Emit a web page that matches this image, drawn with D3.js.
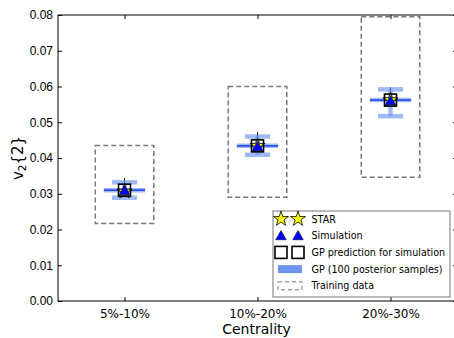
<!DOCTYPE html>
<html>
<head>
<meta charset="utf-8">
<script src="https://cdnjs.cloudflare.com/ajax/libs/d3/7.8.5/d3.min.js"></script>
<style>
  body { margin: 0; background: #fff; }
  svg { display: block; }
</style>
</head>
<body>
<div id="chart"></div>
<script>
// categories on the x axis
const categories = ['5%-10%', '10%-20%', '20%-30%'];
// training-data range (dashed boxes)
const trainLow = [0.0217, 0.0290, 0.0346];
const trainHigh = [0.0435, 0.0600, 0.0795];
// GP posterior summary
const gpMean = [0.0310, 0.0434, 0.0562];
const gpLow = [0.0289, 0.0409, 0.0517];
const gpHigh = [0.0332, 0.0460, 0.0592];
// simulation and STAR values
const simValues = [0.0309, 0.0432, 0.0560];
const starValues = [0.0306, 0.0434, 0.0562];
const starHigh = [0.0344, 0.0472, 0.0598];
const starLow = [0.0296, 0.0424, 0.0552];
const yTicks = [0, 0.01, 0.02, 0.03, 0.04, 0.05, 0.06, 0.07, 0.08];

const W = 454, H = 338;
const margin = { top: 15, right: -3, bottom: 37, left: 58 };
const pLeft = margin.left, pRight = W - margin.right;
const pTop = margin.top, pBottom = H - margin.bottom;

const svg = d3.select('#chart').append('svg')
  .attr('width', W).attr('height', H);

const x = d3.scaleLinear().domain([0.5, 3.5]).range([pLeft, pRight]);
const y = d3.scaleLinear().domain([0, 0.08]).range([pBottom, pTop]);

const boxHalf = 0.22, bandHalf = 0.155, capHalf = 0.094;
const idx = categories.map((c, i) => i);

// training boxes
svg.append('g').selectAll('rect')
  .data(idx).enter().append('rect')
  .attr('x', i => x(i + 1 - boxHalf))
  .attr('width', i => x(i + 1 + boxHalf) - x(i + 1 - boxHalf))
  .attr('y', i => y(trainHigh[i]))
  .attr('height', i => y(trainLow[i]) - y(trainHigh[i]))
  .attr('fill', 'none')
  .attr('stroke', '#777')
  .attr('stroke-width', 1.5)
  .attr('stroke-dasharray', '5,3');

// STAR error bars
svg.append('g').selectAll('line')
  .data(idx).enter().append('line')
  .attr('x1', i => x(i + 1)).attr('x2', i => x(i + 1))
  .attr('y1', i => y(starHigh[i]))
  .attr('y2', i => y(starLow[i]))
  .attr('stroke', '#000').attr('stroke-width', 1);

// GP bands
const gp = svg.append('g');
const bandColor = '#6d95ef';
idx.forEach(i => {
  const g = gp.append('g').attr('stroke', bandColor).attr('stroke-opacity', 0.65).attr('stroke-width', 4.5);
  g.append('line')
    .attr('x1', x(i + 1 - bandHalf)).attr('x2', x(i + 1 + bandHalf))
    .attr('y1', y(gpMean[i])).attr('y2', y(gpMean[i]));
  g.append('line')
    .attr('x1', x(i + 1)).attr('x2', x(i + 1))
    .attr('y1', y(gpHigh[i])).attr('y2', y(gpLow[i]));
  [gpHigh[i], gpLow[i]].forEach(v => {
    g.append('line')
      .attr('x1', x(i + 1 - capHalf)).attr('x2', x(i + 1 + capHalf))
      .attr('y1', y(v)).attr('y2', y(v));
  });
  gp.append('line')
    .attr('x1', x(i + 1 - bandHalf)).attr('x2', x(i + 1 + bandHalf))
    .attr('y1', y(gpMean[i])).attr('y2', y(gpMean[i]))
    .attr('stroke', '#3050ee').attr('stroke-width', 1.8);
});

const star = d3.symbol().type(d3.symbolStar).size(70);
const tri = d3.symbol().type(d3.symbolTriangle).size(48);

// STAR markers
svg.append('g').selectAll('path')
  .data(idx).enter().append('path')
  .attr('d', star)
  .attr('transform', i => `translate(${x(i + 1)},${y(starValues[i])})`)
  .attr('fill', '#ffff00').attr('stroke', '#000').attr('stroke-width', 0.8);

// simulation markers
svg.append('g').selectAll('path')
  .data(idx).enter().append('path')
  .attr('d', tri)
  .attr('transform', i => `translate(${x(i + 1)},${y(simValues[i]) + 1})`)
  .attr('fill', '#0000ff').attr('stroke', '#000033').attr('stroke-width', 0.6);

// GP prediction squares
svg.append('g').selectAll('rect')
  .data(idx).enter().append('rect')
  .attr('x', i => x(i + 1) - 6).attr('y', i => y(gpMean[i]) - 6)
  .attr('width', 12).attr('height', 12)
  .attr('fill', 'none').attr('stroke', '#000').attr('stroke-width', 1.6);

// frame
svg.append('rect')
  .attr('x', pLeft).attr('y', pTop)
  .attr('width', pRight - pLeft).attr('height', pBottom - pTop)
  .attr('fill', 'none').attr('stroke', '#000').attr('stroke-width', 1);

// axes with inward ticks
const yAxis = svg.append('g').attr('transform', `translate(${pLeft},0)`)
  .call(d3.axisLeft(y).tickValues(yTicks).tickFormat(d3.format('.2f')).tickSizeInner(-4).tickSizeOuter(0).tickPadding(5));
yAxis.select('.domain').remove();
yAxis.selectAll('text').attr('font-family', '"Liberation Sans", Arial, sans-serif').attr('font-size', 12).attr('fill', '#000');

const yAxisR = svg.append('g').attr('transform', `translate(${pRight},0)`)
  .call(d3.axisRight(y).tickValues(yTicks).tickFormat('').tickSizeInner(-4).tickSizeOuter(0));
yAxisR.select('.domain').remove();

const xAxis = svg.append('g').attr('transform', `translate(0,${pBottom})`)
  .call(d3.axisBottom(x).tickValues([1, 2, 3]).tickFormat(d => categories[d - 1]).tickSizeInner(-4).tickSizeOuter(0).tickPadding(8));
xAxis.select('.domain').remove();
xAxis.selectAll('text').attr('font-family', '"DejaVu Sans", sans-serif').attr('font-size', 12).attr('fill', '#000');

const xAxisT = svg.append('g').attr('transform', `translate(0,${pTop})`)
  .call(d3.axisTop(x).tickValues([1, 2, 3]).tickFormat('').tickSizeInner(-4).tickSizeOuter(0));
xAxisT.select('.domain').remove();

svg.selectAll('.tick line').attr('stroke', '#000');

// axis titles
svg.append('text')
  .attr('x', (pLeft + pRight) / 2 - 1).attr('y', 334)
  .attr('text-anchor', 'middle')
  .attr('font-family', '"DejaVu Sans", sans-serif').attr('font-size', 14)
  .text('Centrality');

const yl = svg.append('text')
  .attr('transform', `translate(23,${(pTop + pBottom) / 2}) rotate(-90)`)
  .attr('text-anchor', 'middle')
  .attr('font-family', '"DejaVu Sans", sans-serif').attr('font-size', 15);
yl.append('tspan').text('v');
yl.append('tspan').attr('font-size', 10.5).attr('dy', 3).text('2');
yl.append('tspan').attr('dy', -3).text('{2}');

// legend
const lg = svg.append('g').attr('transform', 'translate(273,211)');
lg.append('rect').attr('width', 177).attr('height', 86)
  .attr('fill', '#fff').attr('stroke', '#777').attr('stroke-width', 1);
const rows = ['STAR', 'Simulation', 'GP prediction for simulation', 'GP (100 posterior samples)', 'Training data'];
const rowY = d => 8 + d * 16.7;
rows.forEach((label, r) => {
  const cy = rowY(r);
  [8, 25].forEach(mx => {
    if (r === 0) lg.append('path').attr('d', star).attr('transform', `translate(${mx},${cy})`)
      .attr('fill', '#ffff00').attr('stroke', '#000').attr('stroke-width', 0.8);
    if (r === 1) lg.append('path').attr('d', tri).attr('transform', `translate(${mx},${cy + 1})`)
      .attr('fill', '#0000ff').attr('stroke', '#000033').attr('stroke-width', 0.6);
    if (r === 2) lg.append('rect').attr('x', mx - 6).attr('y', cy - 6).attr('width', 12).attr('height', 12)
      .attr('fill', 'none').attr('stroke', '#000').attr('stroke-width', 1.6);
  });
  if (r === 3) lg.append('rect').attr('x', 5).attr('y', cy - 4).attr('width', 24).attr('height', 8).attr('fill', bandColor);
  if (r === 4) lg.append('rect').attr('x', 5).attr('y', cy - 4).attr('width', 24).attr('height', 8)
    .attr('fill', 'none').attr('stroke', '#777').attr('stroke-width', 1).attr('stroke-dasharray', '4,3');
  lg.append('text').attr('x', 38.5).attr('y', cy + 3.5)
    .attr('font-family', '"DejaVu Sans", sans-serif').attr('font-size', 9.6)
    .text(label);
});
</script>
</body>
</html>
